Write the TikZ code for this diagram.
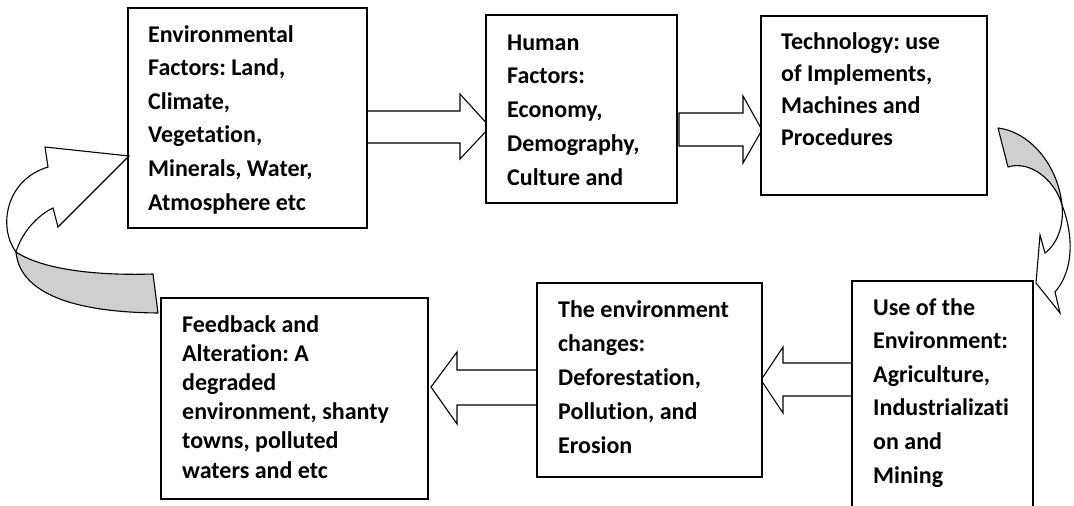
\documentclass[tikz,border=0pt]{standalone}
\usepackage{fontspec}
\setmainfont[RawFeature={-liga}]{Carlito}
\frenchspacing
\begin{document}
\begin{tikzpicture}[x=1pt,y=-1pt,
  box/.style={draw, line width=1.5pt, inner sep=0pt, fill=white},
  blk/.style={draw, line width=1.1pt, fill=white, line join=miter},
  ribbon/.style={draw, line width=1.1pt, fill=black!19, line join=round},
  ribbonw/.style={draw, line width=1.1pt, fill=white, line join=miter},
  txt/.style={anchor=base west, inner sep=0pt}]
\clip (0,0) rectangle (1074,506);
\fill[white] (0,0) rectangle (1074,506);
\newcommand\lines[3]{\parbox[t]{#1}{\raggedright\frenchspacing\fontsize{24}{#2}\selectfont\bfseries #3}}

% block arrows
\draw[blk] (367,111) -- (460,111) -- (460,94) -- (490,127) -- (460,159) -- (460,143) -- (367,143) -- cycle;
\draw[blk] (679,113) -- (743,113) -- (743,96) -- (762,130) -- (743,163) -- (743,146) -- (679,146) -- cycle;
\draw[blk] (852,363) -- (783,363) -- (783,347) -- (761,380) -- (783,413) -- (783,396) -- (852,396) -- cycle;
\draw[blk] (538,370) -- (457,370) -- (457,352) -- (431,387) -- (457,424) -- (457,405) -- (538,405) -- cycle;

% boxes
\node[box, minimum width=239pt, minimum height=220pt] (b1) at (247.5,118) {};
\node[box, minimum width=191pt, minimum height=188pt] (b2) at (581.5,109) {};
\node[box, minimum width=226pt, minimum height=179pt] (b3) at (874,105.5) {};
\node[box, minimum width=181pt, minimum height=270pt] (b4) at (942.5,416) {};
\node[box, minimum width=225pt, minimum height=194pt] (b5) at (649.5,380) {};
\node[box, minimum width=267pt, minimum height=201pt] (b6) at (294.5,398.5) {};

% texts
\node[txt] (t1) at (148,42) {\lines{215pt}{33.6pt}{Environmental\\Factors: Land,\\Climate,\\Vegetation,\\Minerals, Water,\\Atmosphere etc}};
\node[txt] (t2) at (507,50) {\lines{170pt}{33.75pt}{Human\\Factors:\\Economy,\\Demography,\\Culture and}};
\node[txt] (t3) at (781,49) {\lines{200pt}{32pt}{Technology: use\\of Implements,\\Machines and\\Procedures}};
\node[txt] (t4) at (873,315) {\lines{160pt}{33.6pt}{Use of the\\Environment:\\Agriculture,\\Industrializati\\on and\\Mining}};
\node[txt] (t5) at (558,317) {\lines{200pt}{34pt}{The environment\\changes:\\Deforestation,\\Pollution, and\\Erosion}};
\node[txt] (t6) at (182,332) {\lines{240pt}{29.2pt}{Feedback and\\Alteration: A\\degraded\\environment, shanty\\towns, polluted\\waters and etc}};

% left curved arrow (feedback -> environmental factors)
\draw[ribbon] (16,252) .. controls (40,268) and (90,276) .. (153,274)
  -- (158,313) .. controls (55,312) and (19,285) .. (16,252) -- cycle;
\draw[ribbonw] (16,252) .. controls (22,232) and (38,215) .. (53,208)
  -- (58,227) -- (129,156) -- (45,147) -- (48,167)
  .. controls (5,180) and (-2,228) .. (16,252) -- cycle;

% right curved arrow (technology -> use of the environment)
\draw[ribbon] (998,128) .. controls (1030,132) and (1058,165) .. (1062,205)
  .. controls (1055,180) and (1030,160) .. (1008,167) -- cycle;
\draw[ribbonw] (1062,205) .. controls (1070,225) and (1078,265) .. (1055,292)
  -- (1060,313) -- (1036,283) -- (1040,235) -- (1045,253)
  .. controls (1058,243) and (1064,225) .. (1062,205) -- cycle;
\end{tikzpicture}
\end{document}
